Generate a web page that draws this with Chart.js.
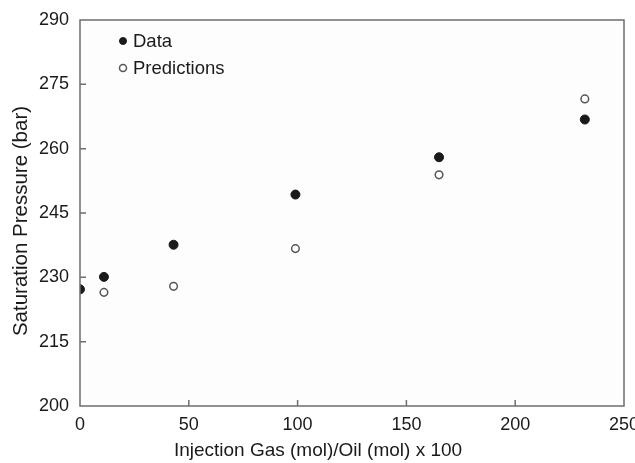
<!DOCTYPE html>
<html>
<head>
<meta charset="utf-8">
<script src="https://cdn.jsdelivr.net/npm/chart.js@4"></script>
<style>
  html, body { margin: 0; padding: 0; background: #fff; }
  #wrap { width: 635px; height: 463px; }
</style>
</head>
<body>
<div id="wrap"><canvas id="myChart"></canvas></div>
<script>
// gas/oil ratio (mol/mol x 100) and saturation pressure (bar)
const dataX = [0, 11, 43, 99, 165, 232];
const dataP = [227.2, 230.1, 237.6, 249.3, 258.0, 266.8];
const predX = [11, 43, 99, 165, 232];
const predP = [226.5, 227.9, 236.7, 253.9, 271.6];
const xTicks = [0, 50, 100, 150, 200, 250];
const yTicks = [200, 215, 230, 245, 260, 275, 290];
const xTitle = 'Injection Gas (mol)/Oil (mol) x 100';
const yTitle = 'Saturation Pressure (bar)';

const FONT = 'Liberation Sans, Arial, Helvetica, sans-serif';
const INK = '#1a1a1a';

function toPoints(xs, ys) {
    return xs.map((x, i) => ({ x: x, y: ys[i] }));
}

// frame, inward ticks, axis titles and the legend inside the plot
const framePlugin = {
    id: 'frame',
    beforeDatasetsDraw(chart) {
        const { ctx, chartArea: a } = chart;
        ctx.save();
        ctx.fillStyle = '#fdfdfd';
        ctx.fillRect(a.left, a.top, a.right - a.left, a.bottom - a.top);
        ctx.restore();
    },
    afterDatasetsDraw(chart) {
        const { ctx, chartArea: a, scales } = chart;
        ctx.save();
        ctx.strokeStyle = '#6e6e6e';
        ctx.lineWidth = 1.5;
        ctx.strokeRect(a.left, a.top, a.right - a.left, a.bottom - a.top);
        ctx.beginPath();
        xTicks.slice(1, -1).forEach(v => {
            const px = scales.x.getPixelForValue(v);
            ctx.moveTo(px, a.bottom);
            ctx.lineTo(px, a.bottom - 6);
        });
        yTicks.slice(1, -1).forEach(v => {
            const py = scales.y.getPixelForValue(v);
            ctx.moveTo(a.left, py);
            ctx.lineTo(a.left + 6, py);
        });
        ctx.stroke();

        // axis titles (the original sits a bit left / low of the plot centre)
        ctx.fillStyle = INK;
        ctx.textAlign = 'center';
        ctx.textBaseline = 'middle';
        ctx.font = '19px ' + FONT;
        ctx.fillText(xTitle, 318, 451);
        ctx.save();
        ctx.translate(21, 221);
        ctx.rotate(-Math.PI / 2);
        ctx.font = '20.5px ' + FONT;
        ctx.fillText(yTitle, 0, 0);
        ctx.restore();

        // legend
        ctx.textAlign = 'left';
        ctx.font = '18.5px ' + FONT;
        chart.data.datasets.forEach((ds, i) => {
            const cx = a.left + 43;
            const cy = a.top + 21 + i * 27;
            ctx.beginPath();
            ctx.arc(cx, cy, 3.5, 0, Math.PI * 2);
            ctx.fillStyle = ds.backgroundColor;
            ctx.fill();
            ctx.lineWidth = ds.borderWidth;
            ctx.strokeStyle = ds.borderColor;
            ctx.stroke();
            ctx.fillStyle = INK;
            ctx.fillText(ds.label, cx + 10, cy + 1);
        });
        ctx.restore();
    }
};

const ctx = document.getElementById('myChart').getContext('2d');
const myChart = new Chart(ctx, {
    type: 'scatter',
    data: {
        datasets: [
            {
                label: 'Data',
                data: toPoints(dataX, dataP),
                backgroundColor: INK,
                borderColor: INK,
                borderWidth: 1,
                pointRadius: 4.5,
            },
            {
                label: 'Predictions',
                data: toPoints(predX, predP),
                backgroundColor: '#ffffff',
                borderColor: '#555555',
                borderWidth: 1.5,
                pointRadius: 3.8,
            }
        ]
    },
    options: {
        responsive: true,
        maintainAspectRatio: false,
        animation: false,
        layout: { padding: { left: 0, right: 11, top: 20, bottom: 0 } },
        plugins: {
            legend: { display: false },
            tooltip: { enabled: false }
        },
        scales: {
            x: {
                type: 'linear',
                min: 0,
                max: 250,
                afterBuildTicks: s => { s.ticks = xTicks.map(v => ({ value: v })); },
                afterFit: s => { s.height = 57; s.paddingRight = 0; s.paddingLeft = 0; },
                grid: { display: false, drawTicks: false },
                border: { display: false },
                ticks: {
                    color: INK,
                    font: { family: FONT, size: 18 },
                    padding: 8,
                    maxRotation: 0
                }
            },
            y: {
                type: 'linear',
                min: 200,
                max: 290,
                afterBuildTicks: s => { s.ticks = yTicks.map(v => ({ value: v })); },
                afterFit: s => { s.width = 80; s.paddingTop = 0; s.paddingBottom = 0; },
                grid: { display: false, drawTicks: false },
                border: { display: false },
                ticks: {
                    color: INK,
                    font: { family: FONT, size: 18 },
                    padding: 11
                }
            }
        }
    },
    plugins: [framePlugin]
});
</script>
</body>
</html>
